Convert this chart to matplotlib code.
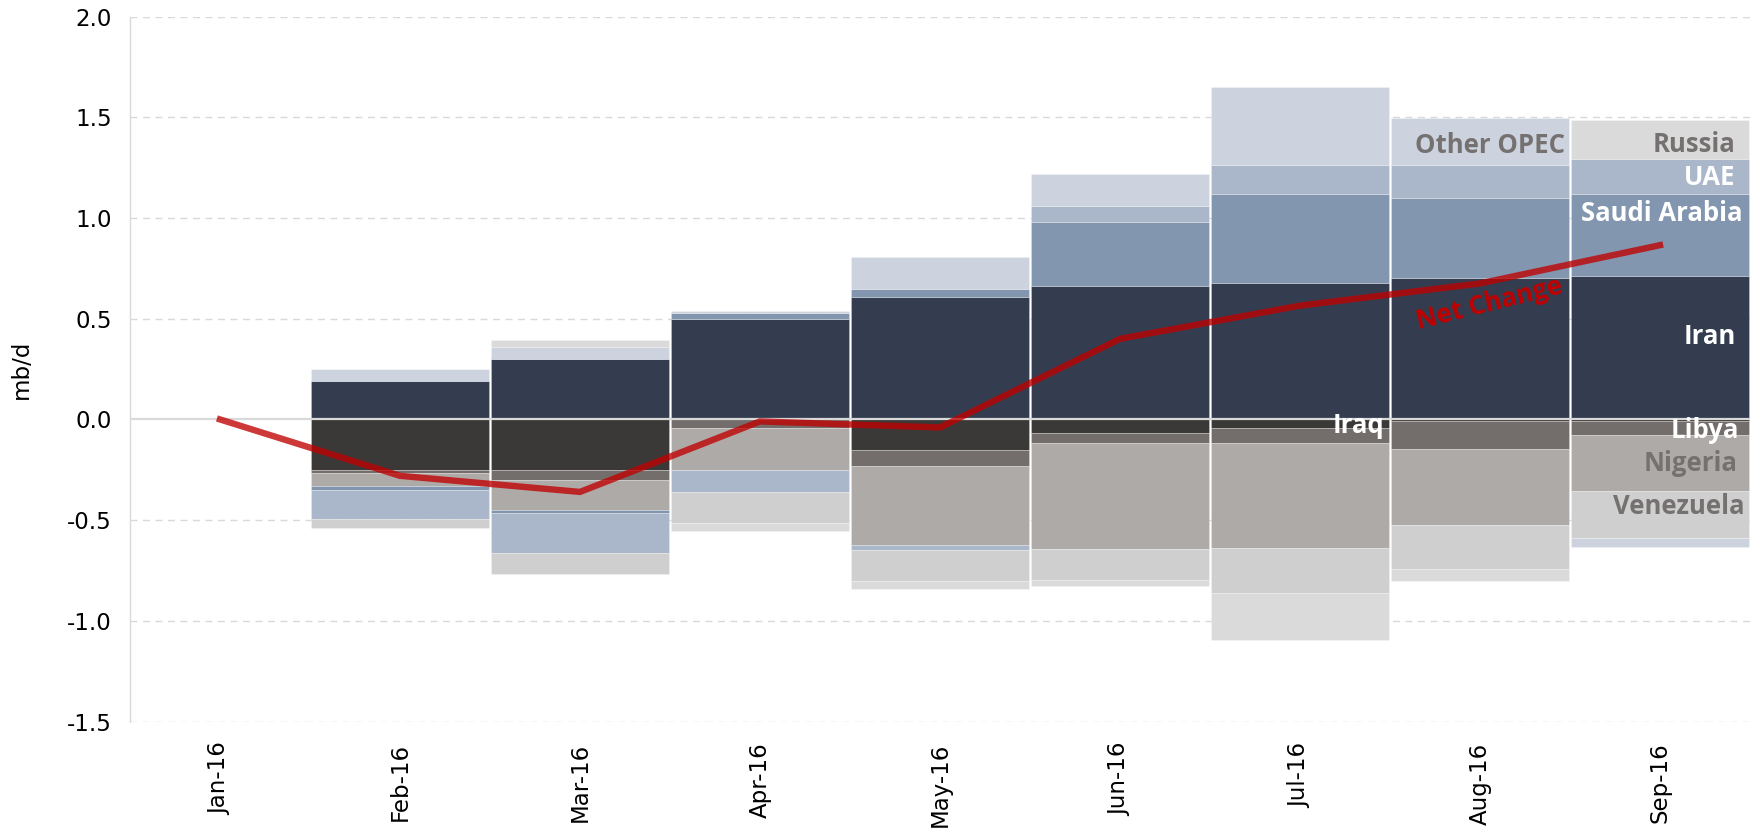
import numpy as np
import matplotlib
matplotlib.use("Agg")
import matplotlib.pyplot as plt

months = ['Jan-16', 'Feb-16', 'Mar-16', 'Apr-16', 'May-16', 'Jun-16', 'Jul-16', 'Aug-16', 'Sep-16']

iran       = [0, 0.19, 0.30, 0.50, 0.61, 0.66, 0.675, 0.70, 0.71]
iraq       = [0, -0.25, -0.25, 0.0, -0.15, -0.065, -0.045, -0.01, -0.01]
libya      = [0, -0.016, -0.053, -0.043, -0.081, -0.052, -0.07, -0.137, -0.067]
nigeria    = [0, -0.067, -0.147, -0.207, -0.394, -0.525, -0.525, -0.376, -0.28]
saudi      = [0, -0.015, -0.015, 0.028, 0.038, 0.318, 0.442, 0.40, 0.411]
uae        = [0, -0.146, -0.199, -0.111, -0.021, 0.082, 0.148, 0.163, 0.172]
venezuela  = [0, -0.045, -0.101, -0.155, -0.155, -0.155, -0.222, -0.22, -0.232]
other_opec = [0, 0.058, 0.058, 0.009, 0.156, 0.160, 0.385, 0.231, -0.042]
russia     = [0, 0.0, 0.036, -0.037, -0.041, -0.029, -0.235, -0.06, 0.195]
net_change = [0, -0.28, -0.36, -0.01, -0.04, 0.40, 0.565, 0.675, 0.865]

series = [
    ('Iran', iran, '#333D4F'),
    ('Iraq', iraq, '#3B3937'),
    ('Libya', libya, '#736E6C'),
    ('Nigeria', nigeria, '#AEAAA8'),
    ('Saudi Arabia', saudi, '#8396AF'),
    ('UAE', uae, '#AAB6C9'),
    ('Venezuela', venezuela, '#D0CFCF'),
    ('Other OPEC', other_opec, '#CCD3DF'),
    ('Russia', russia, '#DADADA'),
]

fig = plt.figure(figsize=(17.54, 8.40), dpi=100)
ax = fig.add_axes([0.0741, 0.141, 0.9236, 0.8393])

x = np.arange(len(months))
pos_base = np.zeros(len(months))
neg_base = np.zeros(len(months))
for name, vals, col in series:
    v = np.array(vals, dtype=float)
    bottom = np.where(v >= 0, pos_base, neg_base)
    ax.bar(x, v, bottom=bottom, width=0.988, color=col,
           edgecolor=(1, 1, 1, 0.25), linewidth=0.7, zorder=2)
    pos_base = pos_base + np.clip(v, 0, None)
    neg_base = neg_base + np.clip(v, None, 0)

ax.axhline(0, color='#D9D9D9', lw=1.6, zorder=3)

ax.plot(x, net_change, color='#C00000', alpha=0.78, lw=4.6,
        solid_joinstyle='miter', zorder=4)

ax.set_xlim(-0.5, 8.5)
ax.set_ylim(-1.5, 2.0)
yt = np.arange(-1.5, 2.01, 0.5)
ax.set_yticks(yt)
ax.set_yticklabels([f'{t:.1f}' for t in yt])
ax.set_xticks(x)
ax.set_xticklabels(months, rotation=90)
ax.tick_params(axis='both', length=0, labelsize=16.5, colors='#000000')
ax.tick_params(axis='y', pad=13)
ax.tick_params(axis='x', pad=15)

for t in yt:
    if abs(t) > 1e-9:
        ax.axhline(t, color='#D9D9D9', lw=1.0, ls=(0, (5, 4)), zorder=0)

for s in ['top', 'right', 'bottom']:
    ax.spines[s].set_visible(False)
ax.spines['left'].set_color('#D9D9D9')
ax.spines['left'].set_linewidth(1.0)

ax.set_ylabel('mb/d', fontsize=16.5)
ax.yaxis.set_label_coords(-0.06, 0.5)

lab = dict(fontsize=18.5, fontweight='bold', family='Open Sans', ha='right', va='center', zorder=6)
grey = '#767171'
ax.text(8.42, 1.367, 'Russia', color=grey, **lab)
ax.text(8.42, 1.199, 'UAE', color='white', **lab)
ax.text(8.46, 1.02, 'Saudi Arabia', color='white', **lab)
ax.text(8.42, 0.41, 'Iran', color='white', **lab)
ax.text(8.44, -0.056, 'Libya', color='white', **lab)
ax.text(8.43, -0.218, 'Nigeria', color=grey, **lab)
ax.text(8.47, -0.43, 'Venezuela', color=grey, **lab)
ax.text(7.47, 1.36, 'Other OPEC', color=grey, **lab)
ax.text(6.47, -0.03, 'Iraq', color='white', **lab)
ax.text(7.05, 0.575, 'Net Change', color='#C00000', fontsize=18.5, fontweight='bold',
        family='Open Sans', ha='center', va='center', rotation=14, zorder=6)

fig.savefig('out.png', dpi=100)
